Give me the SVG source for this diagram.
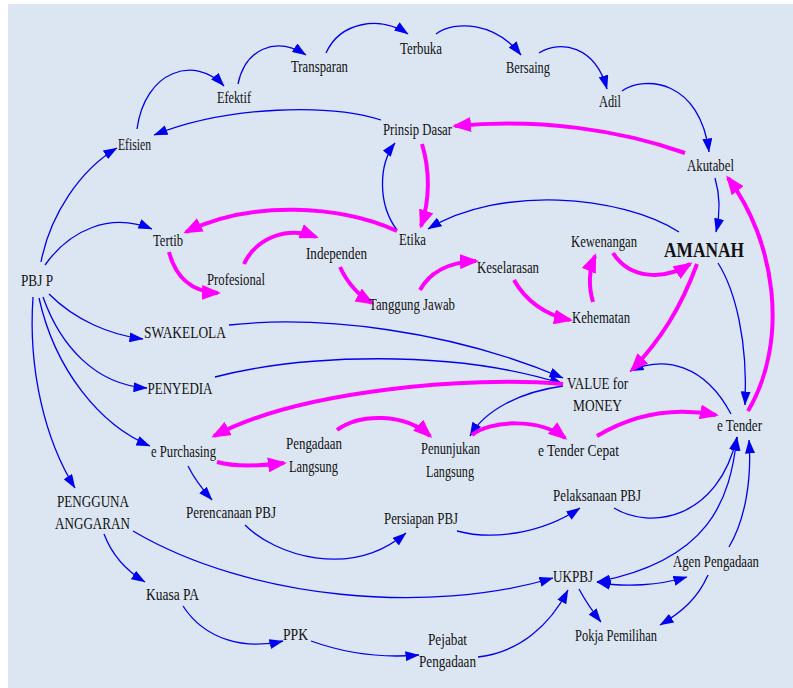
<svg xmlns="http://www.w3.org/2000/svg" width="793" height="688" viewBox="0 0 793 688">
<defs>
<marker id="ab" markerUnits="userSpaceOnUse" markerWidth="14" markerHeight="10" refX="13.5" refY="5" orient="auto-start-reverse"><path d="M0,0 L14,5 L0,10 z" fill="#0000F0"/></marker>
<marker id="am" markerUnits="userSpaceOnUse" markerWidth="19" markerHeight="15" refX="16" refY="7.5" orient="auto"><path d="M0,0 L19,7.5 L0,15 z" fill="#FF00FF"/></marker>
<style>
.b{fill:none;stroke:#0000F0;stroke-width:1.3;marker-end:url(#ab)}
.m{fill:none;stroke:#FF00FF;stroke-width:4;marker-end:url(#am)}
.bb{marker-start:url(#ab)}
text{font-family:"Liberation Serif","Times New Roman",serif;font-size:17px;fill:#111111;text-anchor:middle}
.big{font-size:22px;font-weight:bold}
</style>
</defs>
<rect x="0" y="0" width="793" height="688" fill="#FFFFFF"/>
<rect x="8" y="4" width="785" height="684" fill="#DCE6F2"/>
<g id="connectors">
<path class="b" d="M41,262 C50,215 80,170 117,148"/>
<path class="b" d="M137,129 C145,70 195,55 224,86"/>
<path class="b" d="M238,84 C245,50 275,35 306,55"/>
<path class="b" d="M326,53 C340,22 380,15 408,34"/>
<path class="b" d="M436,34 C455,20 495,22 521,55"/>
<path class="b" d="M539,53 C560,40 595,45 607,89"/>
<path class="b" d="M622,91 C645,75 700,80 709,152"/>
<path class="b" d="M381,120 C330,104 230,105 154,135"/>
<path class="b" d="M397,230 C378,205 378,165 395,143"/>
<path class="b" d="M679,232 C620,195 500,185 428,229"/>
<path class="b" d="M715,178 C720,195 720,215 716,232"/>
<path class="b" d="M718,263 C735,290 748,340 745,405"/>
<path class="b" d="M45,265 C70,230 110,212 152,229"/>
<path class="b" d="M49,294 C75,320 110,335 143,339"/>
<path class="b" d="M43,297 C60,345 95,385 147,388"/>
<path class="b" d="M39,298 C55,370 100,425 150,446"/>
<path class="b" d="M33,297 C28,370 45,440 75,488"/>
<path class="b" d="M229,325 C320,315 450,330 563,378"/>
<path class="b" d="M215,377 C300,355 450,348 563,384"/>
<path class="b" d="M563,386 C520,392 485,410 470,436"/>
<path class="b" d="M731,414 C705,365 665,355 630,371"/>
<path class="b" d="M188,466 C195,480 203,490 212,500"/>
<path class="b" d="M245,525 C275,555 350,580 406,533"/>
<path class="b" d="M457,531 C490,540 540,535 580,508"/>
<path class="b" d="M614,508 C650,530 718,520 737,437"/>
<path class="b" d="M133,531 C250,600 430,615 553,578"/>
<path class="b" d="M104,534 C112,555 125,570 145,582"/>
<path class="b" d="M183,606 C205,640 245,650 283,641"/>
<path class="b" d="M311,641 C350,655 385,658 419,655"/>
<path class="b" d="M478,657 C520,652 550,625 568,590"/>
<path class="b" d="M579,589 C586,602 593,612 601,622"/>
<path class="b bb" d="M737,437 C730,500 710,560 597,582"/>
<path class="b bb" d="M597,582 C625,588 660,585 687,577"/>
<path class="b" d="M729,547 C745,520 752,480 749,440"/>
<path class="b" d="M708,575 C698,598 682,612 660,625"/>
<path class="m" d="M685,153 C620,130 540,118 455,126"/>
<path class="m" d="M422,144 C430,170 430,200 421,226"/>
<path class="m" d="M397,231 C340,205 250,200 186,232"/>
<path class="m" d="M169,252 C175,275 190,292 218,293"/>
<path class="m" d="M244,264 C255,240 285,225 316,237"/>
<path class="m" d="M340,267 C347,282 358,295 372,303"/>
<path class="m" d="M420,290 C430,272 450,262 476,261"/>
<path class="m" d="M514,280 C525,300 545,315 570,320"/>
<path class="m" d="M593,302 C588,285 590,268 595,256"/>
<path class="m" d="M613,253 C630,280 665,280 690,264"/>
<path class="m" d="M697,264 C680,310 660,340 632,370"/>
<path class="m" d="M748,411 C790,340 775,240 728,178"/>
<path class="m" d="M563,384 C470,376 300,390 214,436"/>
<path class="m" d="M217,462 C235,467 260,466 284,463"/>
<path class="m" d="M337,430 C360,413 405,413 430,436"/>
<path class="m" d="M472,435 C490,420 540,418 565,438"/>
<path class="m" d="M597,436 C640,410 680,408 716,415"/>
</g>
<g id="efisien"><text x="134.5" y="150" textLength="33" lengthAdjust="spacingAndGlyphs">Efisien</text></g>
<g id="efektif"><text x="234" y="103" textLength="34" lengthAdjust="spacingAndGlyphs">Efektif</text></g>
<g id="transparan"><text x="319.5" y="72" textLength="57" lengthAdjust="spacingAndGlyphs">Transparan</text></g>
<g id="terbuka"><text x="421" y="54" textLength="42" lengthAdjust="spacingAndGlyphs">Terbuka</text></g>
<g id="bersaing"><text x="528" y="73" textLength="44" lengthAdjust="spacingAndGlyphs">Bersaing</text></g>
<g id="adil"><text x="610" y="107" textLength="22" lengthAdjust="spacingAndGlyphs">Adil</text></g>
<g id="prinsip-dasar"><text x="417.5" y="135" textLength="69" lengthAdjust="spacingAndGlyphs">Prinsip Dasar</text></g>
<g id="akutabel"><text x="710.5" y="171" textLength="47" lengthAdjust="spacingAndGlyphs">Akutabel</text></g>
<g id="etika"><text x="412.5" y="245" textLength="27" lengthAdjust="spacingAndGlyphs">Etika</text></g>
<g id="amanah"><text class="big" x="704" y="257" textLength="80" lengthAdjust="spacingAndGlyphs">AMANAH</text></g>
<g id="kewenangan"><text x="604" y="247" textLength="66" lengthAdjust="spacingAndGlyphs">Kewenangan</text></g>
<g id="tertib"><text x="168" y="246" textLength="30" lengthAdjust="spacingAndGlyphs">Tertib</text></g>
<g id="pbjp"><text x="37" y="286" textLength="32" lengthAdjust="spacingAndGlyphs">PBJ P</text></g>
<g id="profesional"><text x="236" y="285" textLength="58" lengthAdjust="spacingAndGlyphs">Profesional</text></g>
<g id="independen"><text x="336.5" y="259" textLength="61" lengthAdjust="spacingAndGlyphs">Independen</text></g>
<g id="tanggung-jawab"><text x="412" y="310" textLength="86" lengthAdjust="spacingAndGlyphs">Tanggung Jawab</text></g>
<g id="keselarasan"><text x="508" y="273" textLength="62" lengthAdjust="spacingAndGlyphs">Keselarasan</text></g>
<g id="kehematan"><text x="601" y="323" textLength="58" lengthAdjust="spacingAndGlyphs">Kehematan</text></g>
<g id="swakelola"><text x="185" y="338" textLength="82" lengthAdjust="spacingAndGlyphs">SWAKELOLA</text></g>
<g id="penyedia"><text x="180" y="394" textLength="65" lengthAdjust="spacingAndGlyphs">PENYEDIA</text></g>
<g id="value-for-money"><text x="597.5" y="389" textLength="61" lengthAdjust="spacingAndGlyphs">VALUE for</text><text x="597.5" y="411" textLength="49" lengthAdjust="spacingAndGlyphs">MONEY</text></g>
<g id="e-purchasing"><text x="183.5" y="457" textLength="65" lengthAdjust="spacingAndGlyphs">e Purchasing</text></g>
<g id="pengadaan-langsung"><text x="314" y="449" textLength="56" lengthAdjust="spacingAndGlyphs">Pengadaan</text><text x="313.5" y="472" textLength="49" lengthAdjust="spacingAndGlyphs">Langsung</text></g>
<g id="penunjukan-langsung"><text x="450.5" y="454" textLength="59" lengthAdjust="spacingAndGlyphs">Penunjukan</text><text x="450" y="477" textLength="48" lengthAdjust="spacingAndGlyphs">Langsung</text></g>
<g id="e-tender-cepat"><text x="578.5" y="456" textLength="81" lengthAdjust="spacingAndGlyphs">e Tender Cepat</text></g>
<g id="e-tender"><text x="739.5" y="431" textLength="45" lengthAdjust="spacingAndGlyphs">e Tender</text></g>
<g id="pengguna-anggaran"><text x="93" y="507" textLength="72" lengthAdjust="spacingAndGlyphs">PENGGUNA</text><text x="92.5" y="529" textLength="75" lengthAdjust="spacingAndGlyphs">ANGGARAN</text></g>
<g id="perencanaan-pbj"><text x="231" y="518" textLength="90" lengthAdjust="spacingAndGlyphs">Perencanaan PBJ</text></g>
<g id="persiapan-pbj"><text x="421" y="524" textLength="74" lengthAdjust="spacingAndGlyphs">Persiapan PBJ</text></g>
<g id="pelaksanaan-pbj"><text x="597" y="501" textLength="88" lengthAdjust="spacingAndGlyphs">Pelaksanaan PBJ</text></g>
<g id="kuasa-pa"><text x="172.5" y="600" textLength="53" lengthAdjust="spacingAndGlyphs">Kuasa PA</text></g>
<g id="ppk"><text x="295.5" y="640" textLength="25" lengthAdjust="spacingAndGlyphs">PPK</text></g>
<g id="pejabat-pengadaan"><text x="447.5" y="645" textLength="39" lengthAdjust="spacingAndGlyphs">Pejabat</text><text x="447.5" y="667" textLength="57" lengthAdjust="spacingAndGlyphs">Pengadaan</text></g>
<g id="ukpbj"><text x="573" y="582" textLength="40" lengthAdjust="spacingAndGlyphs">UKPBJ</text></g>
<g id="agen-pengadaan"><text x="716" y="567" textLength="86" lengthAdjust="spacingAndGlyphs">Agen Pengadaan</text></g>
<g id="pokja-pemilihan"><text x="616" y="641" textLength="82" lengthAdjust="spacingAndGlyphs">Pokja Pemilihan</text></g>
</svg>
